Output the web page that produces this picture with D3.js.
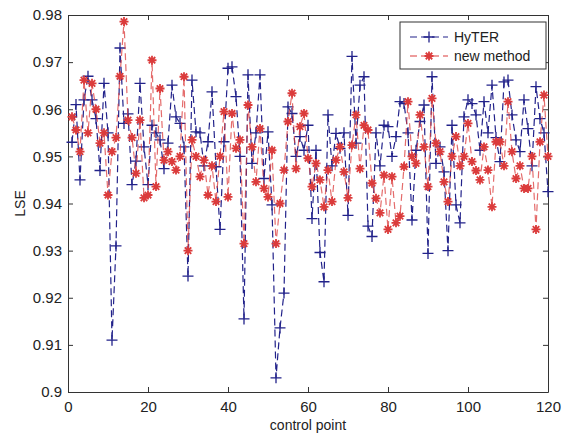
<!DOCTYPE html>
<html>
<head>
<meta charset="utf-8">
<script src="https://cdn.jsdelivr.net/npm/d3@7"></script>
<style>
  body { margin: 0; background: #fff; }
  svg text { font-family: "Liberation Sans", Arial, sans-serif; fill: #222; }
</style>
</head>
<body>
<svg id="chart" width="563" height="435"></svg>
<script>
// control points 1..120
const hyter = [
  0.953, 0.961, 0.945, 0.962, 0.967, 0.962, 0.958, 0.947, 0.9655, 0.955,
  0.911, 0.931, 0.973, 0.957, 0.959, 0.944, 0.949, 0.9655, 0.952, 0.944,
  0.9566, 0.955, 0.9535, 0.9474, 0.9528, 0.9651, 0.9584, 0.957, 0.952, 0.9246,
  0.9662, 0.9552, 0.955, 0.948, 0.9531, 0.9637, 0.9478, 0.9345, 0.9531, 0.9687,
  0.969, 0.9627, 0.95, 0.9155, 0.9673, 0.9485, 0.955, 0.9673, 0.9453, 0.9552,
  0.9397, 0.903, 0.9136, 0.921, 0.9605, 0.9591, 0.95, 0.9542, 0.9513, 0.9566,
  0.9368, 0.9513, 0.9296, 0.9234, 0.9588, 0.948, 0.9549, 0.9517, 0.955, 0.9375,
  0.9712, 0.9528, 0.9651, 0.9669, 0.9352, 0.933, 0.955, 0.948, 0.9566, 0.9563,
  0.95, 0.9542, 0.9616, 0.9612, 0.955, 0.9365, 0.9513, 0.9574, 0.9609, 0.9294,
  0.9669, 0.9485, 0.952, 0.9467, 0.93, 0.9566, 0.9397, 0.9359, 0.9584, 0.962,
  0.9612, 0.9588, 0.9513, 0.9616, 0.955, 0.9651, 0.954, 0.9489, 0.9658, 0.9662,
  0.9588, 0.9535, 0.951, 0.962, 0.9559, 0.948, 0.9648, 0.958, 0.955, 0.9425
];
const newMethod = [
  0.9584, 0.9556, 0.951, 0.9662, 0.955, 0.9655, 0.96, 0.9528, 0.955, 0.9418,
  0.951, 0.954, 0.967, 0.9786, 0.9577, 0.954, 0.9464, 0.9577, 0.9412, 0.9418,
  0.9704, 0.9436, 0.9644, 0.9492, 0.951, 0.9489, 0.9471, 0.95, 0.9669, 0.93,
  0.9535, 0.95, 0.9457, 0.9492, 0.9418, 0.948, 0.9404, 0.95, 0.9595, 0.9414,
  0.9591, 0.9517, 0.9535, 0.9315, 0.9609, 0.952, 0.9446, 0.9559, 0.9432, 0.9414,
  0.9513, 0.9315, 0.94, 0.9471, 0.9574, 0.9634, 0.9474, 0.9563, 0.9591, 0.9496,
  0.9436, 0.9485, 0.945, 0.9393, 0.9471, 0.9404, 0.9492, 0.952, 0.9467, 0.9412,
  0.9524, 0.9588, 0.9474, 0.9566, 0.9556, 0.9443, 0.9411, 0.938, 0.946, 0.9345,
  0.9457, 0.9359, 0.9373, 0.9478, 0.9616, 0.95, 0.9485, 0.9588, 0.952, 0.9436,
  0.9623, 0.9528, 0.951, 0.9446, 0.9404, 0.95, 0.9542, 0.948, 0.95, 0.957,
  0.9489, 0.947, 0.945, 0.952, 0.9471, 0.9393, 0.9531, 0.9531, 0.948, 0.9616,
  0.951, 0.9453, 0.948, 0.9432, 0.9432, 0.95, 0.9345, 0.9531, 0.963, 0.95
];
const xTicks = [0, 20, 40, 60, 80, 100, 120];
const yTicks = [0.9, 0.91, 0.92, 0.93, 0.94, 0.95, 0.96, 0.97, 0.98];
const yTickLabels = ["0.9", "0.91", "0.92", "0.93", "0.94", "0.95", "0.96", "0.97", "0.98"];
const seriesNames = ["HyTER", "new method"];

const svg = d3.select("#chart");
const margin = { top: 15, right: 15, bottom: 43, left: 68 };
const width = +svg.attr("width") - margin.left - margin.right;
const height = +svg.attr("height") - margin.top - margin.bottom;
const g = svg.append("g").attr("transform", `translate(${margin.left},${margin.top})`);

const x = d3.scaleLinear().domain([0, 120]).range([0, width]);
const y = d3.scaleLinear().domain([0.9, 0.98]).range([height, 0]);

const blue = "#22228a";
const red = "#db3b3b";

// 축 (박스 + 안쪽 눈금)
const tickLen = 5;
const axisColor = "#333";
const bottomAxis = g.append("g").attr("transform", `translate(0,${height})`)
  .call(d3.axisBottom(x).tickValues(xTicks).tickSizeInner(-tickLen).tickSizeOuter(0).tickPadding(9));
const topAxis = g.append("g")
  .call(d3.axisTop(x).tickValues(xTicks).tickSizeInner(-tickLen).tickSizeOuter(0).tickFormat(""));
const leftAxis = g.append("g")
  .call(d3.axisLeft(y).tickValues(yTicks).tickSizeInner(-tickLen).tickSizeOuter(0).tickPadding(6)
    .tickFormat((d, i) => yTickLabels[i]));
const rightAxis = g.append("g").attr("transform", `translate(${width},0)`)
  .call(d3.axisRight(y).tickValues(yTicks).tickSizeInner(-tickLen).tickSizeOuter(0).tickFormat(""));

[bottomAxis, topAxis, leftAxis, rightAxis].forEach(a => {
  a.select(".domain").attr("stroke", axisColor);
  a.selectAll(".tick line").attr("stroke", axisColor);
  a.selectAll("text").style("font-size", "15px").attr("fill", "#222");
});

// 선 그리기
const line = d3.line().x((d, i) => x(i + 1)).y(d => y(d));

function plusPath(s) {
  return `M${-s},0H${s}M0,${-s}V${s}`;
}
function starPath(s) {
  const k = s * 0.72;
  return `M${-s},0H${s}M0,${-s}V${s}M${-k},${-k}L${k},${k}M${-k},${k}L${k},${-k}`;
}

g.append("path").datum(hyter)
  .attr("d", line).attr("fill", "none")
  .attr("stroke", blue).attr("stroke-width", 1.2).attr("stroke-dasharray", "7,4");
g.selectAll(".hy").data(hyter).enter().append("path")
  .attr("class", "hy")
  .attr("transform", (d, i) => `translate(${x(i + 1)},${y(d)})`)
  .attr("d", plusPath(5.5))
  .attr("stroke", blue).attr("stroke-width", 1.3).attr("fill", "none");

g.append("path").datum(newMethod)
  .attr("d", line).attr("fill", "none")
  .attr("stroke", red).attr("stroke-width", 1.2).attr("stroke-dasharray", "7,4").attr("opacity", 0.75);
g.selectAll(".nm").data(newMethod).enter().append("path")
  .attr("class", "nm")
  .attr("transform", (d, i) => `translate(${x(i + 1)},${y(d)})`)
  .attr("d", starPath(4.5))
  .attr("stroke", red).attr("stroke-width", 1.8).attr("fill", "none");

// 축 레이블
svg.append("text")
  .attr("x", margin.left + width / 2).attr("y", 430)
  .attr("text-anchor", "middle").style("font-size", "14px")
  .text("control point");
svg.append("text")
  .attr("transform", `translate(25,${margin.top + height / 2}) rotate(-90)`)
  .attr("text-anchor", "middle").style("font-size", "14px")
  .text("LSE");

// 범례
const legend = svg.append("g").attr("transform", "translate(400,22)");
legend.append("rect").attr("width", 146).attr("height", 47)
  .attr("fill", "#fff").attr("stroke", axisColor);
const legColors = [blue, red];
seriesNames.forEach((name, i) => {
  const ly = 15 + i * 19;
  legend.append("line").attr("x1", 10).attr("x2", 48).attr("y1", ly).attr("y2", ly)
    .attr("stroke", legColors[i]).attr("stroke-width", 1.2).attr("stroke-dasharray", "7,4");
  legend.append("path").attr("transform", `translate(29,${ly})`)
    .attr("d", i === 0 ? plusPath(5.5) : starPath(4.5))
    .attr("stroke", legColors[i]).attr("stroke-width", i === 0 ? 1.3 : 1.8).attr("fill", "none");
  legend.append("text").attr("x", 54).attr("y", ly + 5)
    .style("font-size", "14px").text(name);
});
</script>
</body>
</html>
